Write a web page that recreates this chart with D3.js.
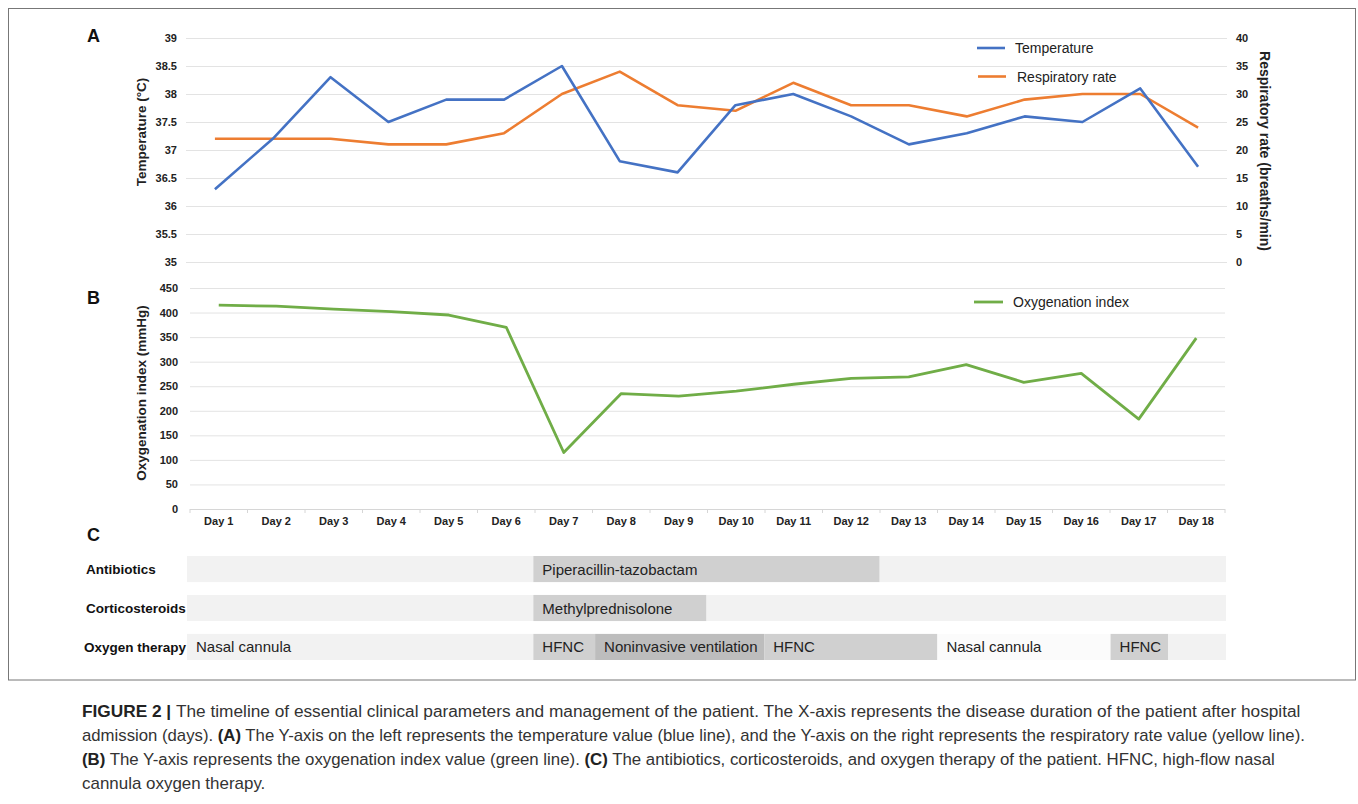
<!DOCTYPE html>
<html><head><meta charset="utf-8">
<script src="https://cdn.jsdelivr.net/npm/d3@7"></script>
<style>
html,body{margin:0;padding:0;background:#fff;}
svg{display:block;font-family:"Liberation Sans",Arial,sans-serif;}
</style></head>
<body>
<svg id="c" width="1358" height="804"></svg>
<script>
const days = ["Day 1","Day 2","Day 3","Day 4","Day 5","Day 6","Day 7","Day 8","Day 9","Day 10","Day 11","Day 12","Day 13","Day 14","Day 15","Day 16","Day 17","Day 18"];
const temperature = [36.3,37.2,38.3,37.5,37.9,37.9,38.5,36.8,36.6,37.8,38.0,37.6,37.1,37.3,37.6,37.5,38.1,36.7];
const respRate = [22,22,22,21,21,23,30,34,28,27,32,28,28,26,29,30,30,24];
const oxygenation = [415,413,407,402,395,370,115,235,230,240,254,266,269,294,258,276,183,348];
const tempTicks = [35,35.5,36,36.5,37,37.5,38,38.5,39];
const rrTicks = [0,5,10,15,20,25,30,35,40];
const oxyTicks = [0,50,100,150,200,250,300,350,400,450];
const treatRows = ["Antibiotics","Corticosteroids","Oxygen therapy"];
// segments: start/end in day units (band edges), label, shade level
const antibioticSegs = [{s:0,e:6,label:"",lvl:0},{s:6,e:12,label:"Piperacillin-tazobactam",lvl:1},{s:12,e:18,label:"",lvl:0}];
const steroidSegs = [{s:0,e:6,label:"",lvl:0},{s:6,e:9,label:"Methylprednisolone",lvl:1},{s:9,e:18,label:"",lvl:0}];
const oxygenSegs = [{s:0,e:6,label:"Nasal cannula",lvl:0},{s:6,e:7.07,label:"HFNC",lvl:1},{s:7.07,e:10,label:"Noninvasive ventilation",lvl:2},{s:10,e:13,label:"HFNC",lvl:1},{s:13,e:16,label:"Nasal cannula",lvl:-1},{s:16,e:17,label:"HFNC",lvl:1},{s:17,e:18,label:"",lvl:0}];
const captionLines = [
 [["FIGURE 2 | ",true],["The timeline of essential clinical parameters and management of the patient. The X-axis represents the disease duration of the patient after hospital",false]],
 [["admission (days). ",false],["(A)",true],[" The Y-axis on the left represents the temperature value (blue line), and the Y-axis on the right represents the respiratory rate value (yellow line).",false]],
 [["(B)",true],[" The Y-axis represents the oxygenation index value (green line). ",false],["(C)",true],[" The antibiotics, corticosteroids, and oxygen therapy of the patient. HFNC, high-flow nasal",false]],
 [["cannula oxygen therapy.",false]]
];
const captionWidths = [1219,1224,1194,null];

const svg = d3.select("#c");
const colT = "#4472C4", colR = "#ED7D31", colO = "#70AD47", grid = "#e3e3e3";

// frame
svg.append("rect").attr("x",8.5).attr("y",8.5).attr("width",1347).attr("height",671.5).attr("fill","none").attr("stroke","#777").attr("stroke-width",1);

// ---------- Panel A ----------
const xA = d3.scaleBand().domain(days).range([186,1227]);
const cA = d => xA(d)+xA.bandwidth()/2;
const yT = d3.scaleLinear().domain([35,39]).range([262,38]);
const yR = d3.scaleLinear().domain([0,40]).range([262,38]);
const gA = svg.append("g");
gA.append("g").attr("transform","translate(186,0)")
  .call(d3.axisLeft(yT).tickValues(tempTicks).tickSize(-1041).tickFormat(""))
  .call(g=>{g.select(".domain").remove();g.selectAll("line").attr("stroke",grid);});
gA.append("g").attr("transform","translate(186,0)")
  .call(d3.axisLeft(yT).tickValues(tempTicks).tickSize(0).tickPadding(9).tickFormat(d3.format("")))
  .call(g=>{g.select(".domain").remove();g.selectAll("text").attr("font-size",11).attr("font-weight","bold").attr("fill","#222").attr("font-family","Liberation Sans, Arial");});
gA.append("g").attr("transform","translate(1227,0)")
  .call(d3.axisRight(yR).tickValues(rrTicks).tickSize(0).tickPadding(9))
  .call(g=>{g.select(".domain").remove();g.selectAll("text").attr("font-size",11).attr("font-weight","bold").attr("fill","#222").attr("font-family","Liberation Sans, Arial");});
const lineT = d3.line().x((d,i)=>cA(days[i])).y(d=>yT(d));
const lineR = d3.line().x((d,i)=>cA(days[i])).y(d=>yR(d));
gA.append("path").datum(respRate).attr("d",lineR).attr("fill","none").attr("stroke",colR).attr("stroke-width",2.6).attr("stroke-linejoin","round");
gA.append("path").datum(temperature).attr("d",lineT).attr("fill","none").attr("stroke",colT).attr("stroke-width",2.6).attr("stroke-linejoin","round");
svg.append("text").attr("transform","translate(146,132) rotate(-90)").attr("text-anchor","middle")
  .attr("font-size",13.5).attr("font-weight","bold").attr("fill","#222").text("Temperature (°C)");
svg.append("text").attr("transform","translate(1260,151) rotate(90)").attr("text-anchor","middle")
  .attr("font-size",14).attr("font-weight","bold").attr("fill","#222").text("Respiratory rate (breaths/min)");
// legend A
svg.append("line").attr("x1",977).attr("x2",1005).attr("y1",48).attr("y2",48).attr("stroke",colT).attr("stroke-width",2.6);
svg.append("text").attr("x",1015).attr("y",53).attr("font-size",14).attr("fill","#222").text("Temperature");
svg.append("line").attr("x1",978).attr("x2",1006).attr("y1",76.5).attr("y2",76.5).attr("stroke",colR).attr("stroke-width",2.6);
svg.append("text").attr("x",1017).attr("y",81.5).attr("font-size",14).attr("fill","#222").text("Respiratory rate");

// ---------- Panel B ----------
const xB = d3.scaleBand().domain(days).range([190,1225]);
const cB = d => xB(d)+xB.bandwidth()/2;
const yO = d3.scaleLinear().domain([0,450]).range([509,288]);
const gB = svg.append("g");
gB.append("g").attr("transform","translate(190,0)")
  .call(d3.axisLeft(yO).tickValues(oxyTicks.filter(d=>d>0)).tickSize(-1035).tickFormat(""))
  .call(g=>{g.select(".domain").remove();g.selectAll("line").attr("stroke",grid);});
gB.append("g").attr("transform","translate(190,0)")
  .call(d3.axisLeft(yO).tickValues(oxyTicks).tickSize(0).tickPadding(12))
  .call(g=>{g.select(".domain").remove();g.selectAll("text").attr("font-size",11).attr("font-weight","bold").attr("fill","#222").attr("font-family","Liberation Sans, Arial");});
gB.append("line").attr("x1",190).attr("x2",1225).attr("y1",509.5).attr("y2",509.5).attr("stroke","#d6d6d6");
gB.selectAll("line.bt").data(d3.range(days.length+1)).join("line").attr("class","bt")
  .attr("x1",i=>190+i*xB.step()).attr("x2",i=>190+i*xB.step()).attr("y1",509).attr("y2",513).attr("stroke","#d6d6d6");
gB.append("g").attr("transform","translate(0,509)")
  .call(d3.axisBottom(xB).tickSize(0).tickPadding(8))
  .call(g=>{g.select(".domain").remove();g.selectAll("text").attr("font-size",11).attr("font-weight","bold").attr("fill","#222").attr("font-family","Liberation Sans, Arial");});
const lineO = d3.line().x((d,i)=>cB(days[i])).y(d=>yO(d));
gB.append("path").datum(oxygenation).attr("d",lineO).attr("fill","none").attr("stroke",colO).attr("stroke-width",2.8).attr("stroke-linejoin","round");
svg.append("text").attr("transform","translate(146,393) rotate(-90)").attr("text-anchor","middle")
  .attr("font-size",13.5).attr("font-weight","bold").attr("fill","#222").text("Oxygenation index (mmHg)");
svg.append("line").attr("x1",974).attr("x2",1003).attr("y1",302).attr("y2",302).attr("stroke",colO).attr("stroke-width",2.8);
svg.append("text").attr("x",1013).attr("y",307).attr("font-size",14).attr("fill","#222").text("Oxygenation index");

// panel letters
[["A",40],["B",302],["C",539]].forEach(([t,y])=>svg.append("text").attr("x",87).attr("y",y+2).attr("font-size",18).attr("font-weight","bold").attr("fill","#111").text(t));

// ---------- Panel C ----------
const xC = d3.scaleLinear().domain([0,18]).range([187,1226]);
const yC = d3.scaleBand().domain(treatRows).range([556,660]).paddingInner(0.33);
const shade = {"-1":"#fbfbfb","0":"#f2f2f2","1":"#d0d0d0","2":"#bdbdbd"};
const rowsData = [antibioticSegs,steroidSegs,oxygenSegs];
rowsData.forEach((segs,ri)=>{
  const row = treatRows[ri];
  const g = svg.append("g");
  g.selectAll("rect").data(segs).join("rect")
    .attr("x",d=>xC(d.s)).attr("width",d=>xC(d.e)-xC(d.s))
    .attr("y",yC(row)).attr("height",yC.bandwidth()).attr("fill",d=>shade[d.lvl]);
  g.selectAll("text").data(segs.filter(d=>d.label)).join("text")
    .attr("x",d=>xC(d.s)+9).attr("y",yC(row)+yC.bandwidth()/2+5.5)
    .attr("font-size",15).attr("fill","#222").text(d=>d.label);
  svg.append("text").attr("x",ri==2?84:86).attr("y",yC(row)+yC.bandwidth()/2+5)
    .attr("font-size",13.5).attr("font-weight","bold").attr("fill","#111").text(row);
});

// ---------- Caption ----------
const capTexts = captionLines.map((parts,i)=>{
  const t = svg.append("text").attr("x",82).attr("y",717+i*24).attr("font-size",17).attr("fill","#333");
  parts.forEach(([s,b])=>t.append("tspan").attr("font-weight",b?"bold":"normal").attr("fill",b?"#222":"#333").text(s));
  return t;
});
const fitted = [];
capTexts.forEach((t,i)=>{
  if (captionWidths[i]) {
    const w = t.node().getComputedTextLength();
    const fs = 17*captionWidths[i]/w;
    t.attr("font-size",fs); fitted.push(fs);
  }
});
const avgFs = d3.mean(fitted);
capTexts.forEach((t,i)=>{ if(!captionWidths[i]) t.attr("font-size",avgFs); });
</script>
</body></html>
